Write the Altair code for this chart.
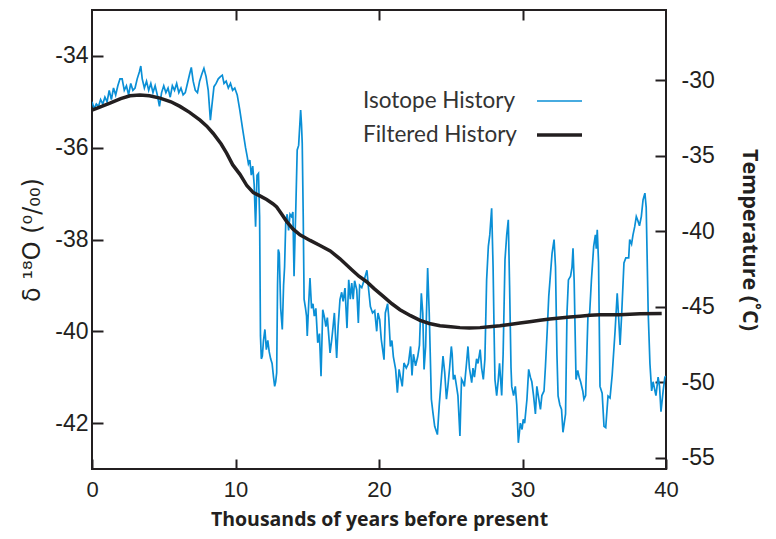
import altair as alt
import pandas as pd

# Isotope history (thousands of years BP, delta 18O per mil)
iso_kyr = [0.0,0.15,0.3,0.45,0.6,0.75,0.9,1.05,1.2,1.35,1.5,1.65,1.8,1.95,2.1,2.25,2.4,2.55,2.7,2.85,
           3.0,3.15,3.3,3.4,3.5,3.65,3.8,3.95,4.1,4.25,4.4,4.55,4.7,4.85,5.0,5.15,5.3,5.45,5.6,5.75,
           5.9,6.05,6.2,6.35,6.5,6.65,6.8,6.92,7.05,7.2,7.35,7.5,7.65,7.8,7.95,8.1,8.25,8.35,8.5,8.65,
           8.8,8.95,9.08,9.2,9.35,9.5,9.65,9.8,9.95,10.12,
           10.3,10.5,10.7,10.82,10.9,11.0,11.1,11.2,11.3,11.4,11.5,11.6,11.68,11.74,11.8,11.87,11.95,12.05,12.15,12.25,
           12.35,12.45,12.55,12.65,12.73,12.8,12.87,12.93,12.98,13.05,13.15,13.26,13.35,13.42,13.5,13.6,13.7,13.8,13.9,14.0,
           14.08,14.15,14.2,14.3,14.4,14.54,14.6,14.65,14.72,14.78,14.88,14.95,
           15.0,15.1,15.19,15.3,15.4,15.49,15.6,15.73,15.85,15.96,16.08,16.2,16.3,16.4,16.5,16.59,16.7,16.8,16.89,16.97,
           17.05,17.15,17.28,17.4,17.5,17.63,17.77,17.89,18.0,18.1,18.2,18.3,18.45,18.56,18.65,18.8,18.95,19.16,19.28,19.4,
           19.55,19.7,19.84,19.93,
           20.05,20.16,20.35,20.44,20.6,20.68,20.79,20.9,21.0,21.16,21.28,21.4,21.5,21.62,21.74,21.9,22.05,22.2,22.3,22.4,
           22.55,22.7,22.82,22.95,23.05,23.14,23.25,23.39,23.5,23.65,23.75,23.88,24.07,24.2,24.35,24.46,24.58,24.7,24.8,24.92,25.04,
           25.1,25.18,25.28,25.38,25.5,25.64,25.75,25.85,25.95,26.1,26.2,26.3,26.46,26.55,26.65,26.8,26.9,27.05,27.15,27.27,
           27.38,27.5,27.62,27.72,27.85,27.95,28.02,28.08,28.2,28.3,28.4,28.55,28.65,28.78,28.9,29.01,29.1,29.2,29.25,29.38,
           29.5,29.6,29.71,29.85,29.97,
           30.05,30.15,30.31,30.43,30.55,30.65,30.77,30.9,31.0,31.1,31.25,31.35,31.5,31.6,31.72,31.83,31.95,32.06,32.2,32.3,
           32.4,32.48,32.6,32.72,32.82,33.0,33.1,33.2,33.35,33.45,33.52,33.6,33.73,33.85,33.95,34.05,34.2,34.28,34.4,34.56,
           34.68,34.8,34.96,35.08,
           35.14,35.21,35.3,35.4,35.55,35.68,35.8,35.96,36.1,36.25,36.45,36.6,36.7,36.8,36.9,37.07,37.2,37.4,37.47,37.6,
           37.7,37.82,37.93,38.05,38.15,38.28,38.4,38.53,38.62,38.76,38.88,39.0,39.1,39.3,39.45,39.55,39.65,39.8,39.92,40.0]
iso_d18o = [-35.0,-35.15,-35.05,-35.1,-34.95,-35.05,-34.9,-35.0,-34.75,-34.95,-34.7,-34.85,-34.65,-34.5,-34.5,-34.75,-34.65,-34.85,-34.6,-34.75,
            -34.7,-34.5,-34.35,-34.22,-34.5,-34.7,-34.55,-34.75,-34.6,-34.8,-34.65,-34.85,-35.1,-34.8,-34.65,-34.8,-34.7,-34.9,-34.65,-34.75,
            -34.6,-34.8,-34.7,-34.85,-34.8,-34.6,-34.4,-34.25,-34.55,-34.75,-34.8,-34.55,-34.4,-34.27,-34.45,-34.75,-35.4,-35.1,-34.67,-34.6,
            -34.5,-34.45,-34.42,-34.6,-34.55,-34.7,-34.6,-34.75,-34.7,-34.85,
            -35.18,-35.6,-36.0,-36.2,-36.35,-36.27,-36.6,-36.4,-36.8,-37.72,-36.6,-36.56,-37.5,-40.1,-40.6,-40.54,-40.2,-39.96,-40.4,-40.2,
            -40.45,-40.6,-40.7,-41.0,-41.2,-41.1,-40.9,-39.0,-38.22,-38.3,-39.5,-39.96,-39.0,-38.6,-37.64,-37.45,-37.8,-37.45,-37.5,-37.4,
            -38.8,-37.9,-37.35,-36.05,-35.95,-35.18,-35.5,-35.9,-37.5,-39.3,-39.5,-39.67,
            -40.1,-39.4,-38.84,-39.5,-39.4,-39.67,-39.5,-40.25,-40.05,-40.98,-39.53,-39.7,-39.9,-39.7,-40.1,-40.47,-40.2,-39.9,-39.6,-40.1,
            -40.58,-39.9,-39.31,-39.15,-39.35,-39.06,-39.93,-38.88,-39.3,-38.95,-39.3,-38.9,-39.1,-39.82,-39.0,-39.05,-38.9,-38.67,-39.1,-39.46,
            -39.6,-39.55,-40.0,-39.6,
            -39.75,-40.18,-40.62,-39.6,-39.4,-39.7,-40.33,-40.2,-40.55,-40.83,-41.34,-40.83,-41.0,-41.2,-40.69,-40.8,-40.7,-40.33,-40.96,-40.5,
            -40.75,-40.55,-40.3,-39.17,-39.6,-40.83,-40.33,-38.62,-39.6,-41.48,-41.75,-42.07,-42.25,-41.6,-41.0,-40.54,-40.9,-41.48,-41.2,-40.8,-40.33,
            -40.5,-41.05,-40.95,-41.15,-41.4,-42.28,-41.04,-41.1,-41.2,-40.69,-40.33,-40.8,-41.12,-40.8,-41.0,-40.6,-40.7,-40.4,-40.8,-41.05,
            -40.6,-38.88,-38.15,-37.9,-37.32,-38.6,-40.0,-41.05,-41.4,-41.1,-40.7,-41.4,-40.5,-38.44,-37.9,-37.57,-39.0,-40.8,-41.2,-41.4,
            -41.2,-41.6,-42.43,-42.0,-42.14,
            -41.92,-42.0,-41.48,-40.83,-41.0,-41.1,-41.4,-41.8,-41.2,-41.4,-41.7,-41.4,-41.3,-40.76,-40.0,-39.24,-38.75,-38.3,-38.0,-38.6,
            -40.5,-41.41,-41.6,-41.7,-42.2,-41.8,-39.6,-38.88,-38.8,-38.6,-38.19,-38.9,-41.05,-40.85,-41.0,-41.1,-41.3,-41.48,-41.4,-39.67,
            -39.6,-38.9,-38.15,-37.9,
            -38.2,-37.79,-38.5,-41.2,-41.35,-42.07,-42.1,-41.41,-41.45,-40.95,-40.0,-39.17,-39.7,-40.3,-39.7,-38.51,-38.4,-38.4,-38.0,-38.1,
            -37.9,-37.72,-37.5,-37.6,-37.7,-37.5,-37.14,-36.99,-37.3,-39.6,-40.7,-41.3,-41.1,-41.4,-41.0,-41.2,-41.75,-41.3,-41.0,-40.98]

# Filtered history
filt_kyr = [0.0,0.5,1.25,2.0,2.65,3.34,4.0,4.74,5.5,6.13,6.8,7.53,8.0,8.45,9.0,9.38,9.8,10.31,10.8,11.24,
            11.7,12.17,12.6,12.87,13.2,13.57,14.0,14.49,15.2,15.89,16.6,17.28,18.1,18.6,19.14,19.7,20.3,20.9,21.46,22.2,
            22.86,23.5,24.25,25.0,25.64,26.3,27.04,27.7,28.43,29.1,29.83,30.5,31.22,31.9,32.61,33.3,34.0,34.7,35.4,36.79,
            38.19,39.7]
filt_d18o = [-35.18,-35.12,-35.03,-34.93,-34.87,-34.85,-34.87,-34.92,-35.0,-35.1,-35.23,-35.4,-35.53,-35.69,-35.92,-36.12,-36.37,-36.58,-36.83,-36.98,
             -37.05,-37.13,-37.22,-37.29,-37.44,-37.61,-37.77,-37.9,-38.02,-38.13,-38.25,-38.42,-38.66,-38.8,-38.92,-39.08,-39.24,-39.4,-39.53,-39.66,
             -39.76,-39.83,-39.88,-39.9,-39.92,-39.93,-39.92,-39.9,-39.88,-39.85,-39.82,-39.79,-39.76,-39.73,-39.71,-39.69,-39.67,-39.65,-39.64,-39.64,
             -39.62,-39.61]

# Scale ranges
x_domain = [0, 40]
d18o_domain = [-43, -33]
temp_domain = [-55.75, -25.36]
x_ticks = [0, 10, 20, 30, 40]
x_top_ticks = [10, 20, 30]
d18o_ticks = [-42, -40, -38, -36, -34]
temp_ticks = [-55, -50, -45, -40, -35, -30]
legend_labels = ["Isotope History", "Filtered History"]

INK = "#231f20"
BLUE = "#0a8fd6"
TICK_FONT = "Liberation Sans"
TITLE_FONT = "Open Sans"
HYPHEN = "replace(datum.label, '\u2212', '-')"

iso_df = pd.DataFrame({"kyr": iso_kyr, "d18o": iso_d18o})
filt_df = pd.DataFrame({"kyr": filt_kyr, "d18o": filt_d18o})
temp_df = pd.DataFrame({"kyr": x_domain, "temp": [temp_ticks[0], temp_ticks[-1]]})

x_enc = alt.X("kyr:Q", scale=alt.Scale(domain=x_domain, nice=False, zero=False),
              axis=alt.Axis(values=x_ticks, offset=-10, tickSize=10, tickWidth=2, tickColor=INK,
                            domain=False, grid=False, labelFont=TICK_FONT, labelFontSize=22,
                            labelColor=INK, labelPadding=10, labelFlush=False,
                            title="Thousands of years before present", titleFont=TITLE_FONT,
                            titleFontWeight="bold", titleFontSize=19.5, titleColor=INK,
                            titleBaseline="alphabetic", titleY=66))
y_enc = alt.Y("d18o:Q", scale=alt.Scale(domain=d18o_domain, nice=False, zero=False),
              axis=alt.Axis(values=d18o_ticks, offset=-11, tickSize=11, tickWidth=2, tickColor=INK,
                            domain=False, grid=False, labelFont=TICK_FONT, labelFontSize=23,
                            labelColor=INK, labelPadding=4, labelFlush=False, labelExpr=HYPHEN,
                            title="δ ¹⁸O (⁰/₀₀)", titleFont="DejaVu Sans", titleFontWeight="normal",
                            titleFontSize=24, titleColor=INK, titlePadding=10))

iso = alt.Chart(iso_df).mark_line(color=BLUE, strokeWidth=1.7, clip=True).encode(x=x_enc, y=y_enc)
filt = alt.Chart(filt_df).mark_line(color=INK, strokeWidth=3.5, clip=True).encode(x="kyr:Q", y="d18o:Q")

one = pd.DataFrame({"a": [0]})
leg_text1 = alt.Chart(one).mark_text(text=legend_labels[0], align="left", baseline="middle",
                                     font="Lato", fontSize=22.5, color="#333333").encode(
    x=alt.value(271), y=alt.value(91))
leg_text2 = alt.Chart(one).mark_text(text=legend_labels[1], align="left", baseline="middle",
                                     font="Lato", fontSize=22.5, color="#333333").encode(
    x=alt.value(271), y=alt.value(125))
leg_line1 = alt.Chart(one).mark_rule(color=BLUE, strokeWidth=1.7).encode(
    x=alt.value(445), x2=alt.value(490), y=alt.value(91))
leg_line2 = alt.Chart(one).mark_rule(color=INK, strokeWidth=3.5).encode(
    x=alt.value(445), x2=alt.value(490), y=alt.value(125))

main = alt.layer(iso, filt, leg_text1, leg_text2, leg_line1, leg_line2)

temp = alt.Chart(temp_df).mark_point(opacity=0).encode(
    x=alt.X("kyr:Q", scale=alt.Scale(domain=x_domain, nice=False, zero=False),
            axis=alt.Axis(orient="top", values=x_top_ticks, offset=-10, tickSize=10, tickWidth=2,
                          tickColor=INK, domain=False, grid=False, labels=False, title="")),
    y=alt.Y("temp:Q", scale=alt.Scale(domain=temp_domain, nice=False, zero=False),
            axis=alt.Axis(orient="right", values=temp_ticks, offset=-11, tickSize=11, tickWidth=2,
                          tickColor=INK, domain=False, grid=False, labelFont=TICK_FONT,
                          labelFontSize=23, labelColor=INK, labelPadding=15, labelFlush=False,
                          labelExpr=HYPHEN,
                          title="Temperature (˚C)", titleFont=TITLE_FONT, titleFontWeight="bold",
                          titleFontSize=21.5, titleColor=INK, titlePadding=23)),
)

chart = alt.layer(main, temp).resolve_scale(x="independent", y="independent").properties(
    width=574, height=459,
    autosize=alt.AutoSizeParams(type="none"),
    padding={"left": 84, "top": 2, "right": 102, "bottom": 62},
).configure_view(stroke=INK, strokeWidth=2)

chart.save("out.html", embed_options={"renderer": "svg", "actions": False})
